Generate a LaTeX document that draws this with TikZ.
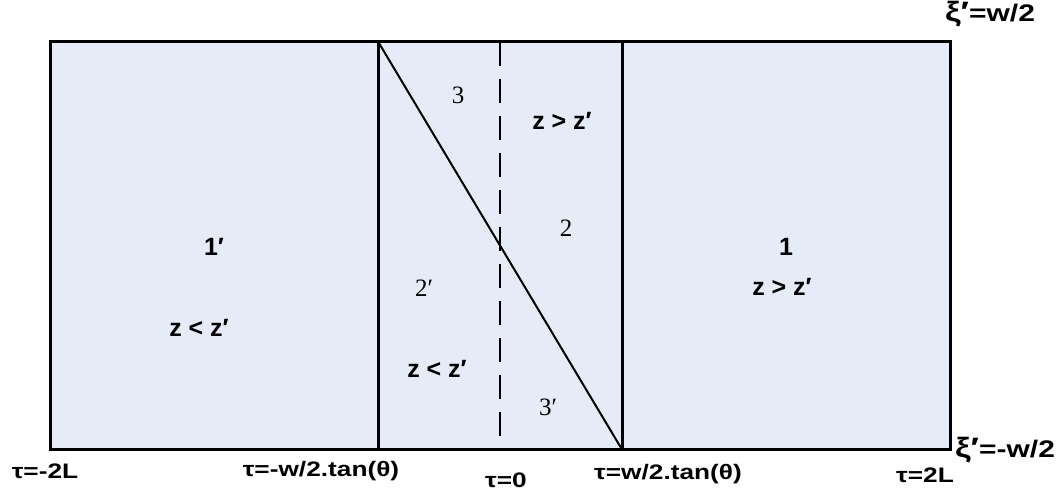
\documentclass[tikz,border=0pt]{standalone}
\usepackage{fontspec}
\setmainfont{Liberation Sans}
\newfontfamily\numfont{Liberation Serif}
\newfontfamily\axisfont[FakeStretch=1.25]{Liberation Sans}
\usetikzlibrary{calc}
\definecolor{stripfill}{RGB}{230,236,247}
\tikzset{
  axislabel/.style={font=\fontsize{21}{24}\selectfont\axisfont\bfseries, inner sep=0pt},
  bandlabel/.style={font=\fontsize{24}{26}\selectfont\axisfont\bfseries, inner sep=0pt},
  regionlabel/.style={font=\fontsize{25}{28}\selectfont\bfseries, inner sep=0pt},
  regionnum/.style={font=\fontsize{25}{28}\selectfont\numfont, inner sep=0pt},
}

\begin{document}
\begin{tikzpicture}[x=1pt, y=-1pt]
  \useasboundingbox (0,0) rectangle (1060,491);
  \coordinate (A1) at (50, 41.5);
  \coordinate (B1) at (378, 41.5);
  \coordinate (C1) at (500, 41.5);
  \coordinate (D1) at (622, 41.5);
  \coordinate (E1) at (950, 41.5);
  \coordinate (A2) at (50, 449.5);
  \coordinate (B2) at (378, 449.5);
  \coordinate (C2) at (500, 437);
  \coordinate (D2) at (622, 449.5);
  \coordinate (E2) at (950, 449.5);

  \fill[stripfill] (A1) rectangle (E2);
  \draw[line width=2pt] (B1) -- (D2);
  \draw[line width=2.5pt, dash pattern=on 24pt off 13pt] (C1) -- (C2);
  \draw[line width=3pt] (B1) -- (B2);
  \draw[line width=3pt] (D1) -- (D2);
  \draw[line width=3pt] (A1) rectangle (E2);

  % regions
  \node[regionlabel] (r1p) at (214, 247) {1′};
  \node[regionlabel] (r1pz) at (199, 328) {z < z′};
  \node[regionlabel] (r1) at (786, 247) {1};
  \node[regionlabel] (r1z) at (782, 287) {z > z′};
  \node[regionnum] (r3) at (458, 95) {3};
  \node[regionlabel] (r3z) at (562, 121) {z > z′};
  \node[regionnum] (r2) at (566, 228) {2};
  \node[regionnum] (r2p) at (424, 288) {2′};
  \node[regionlabel] (r2pz) at (437, 369) {z < z′};
  \node[regionnum] (r3p) at (548, 407) {3′};

  % axes
  \node[axislabel] (tl) at (45, 471) {τ=-2L};
  \node[axislabel] (tml) at (321, 471) {τ=-w/2.tan(θ)};
  \node[axislabel] (t0) at (506, 480) {τ=0};
  \node[axislabel] (tmr) at (668, 474) {τ=w/2.tan(θ)};
  \node[axislabel] (tr) at (925, 475) {τ=2L};
  \node[bandlabel] (xtop) at (990, 14) {{\fontsize{28}{30}\selectfont ξ′}=w/2};
  \node[bandlabel] (xbot) at (1005, 450) {{\fontsize{28}{30}\selectfont ξ′}=-w/2};
\end{tikzpicture}
\end{document}
